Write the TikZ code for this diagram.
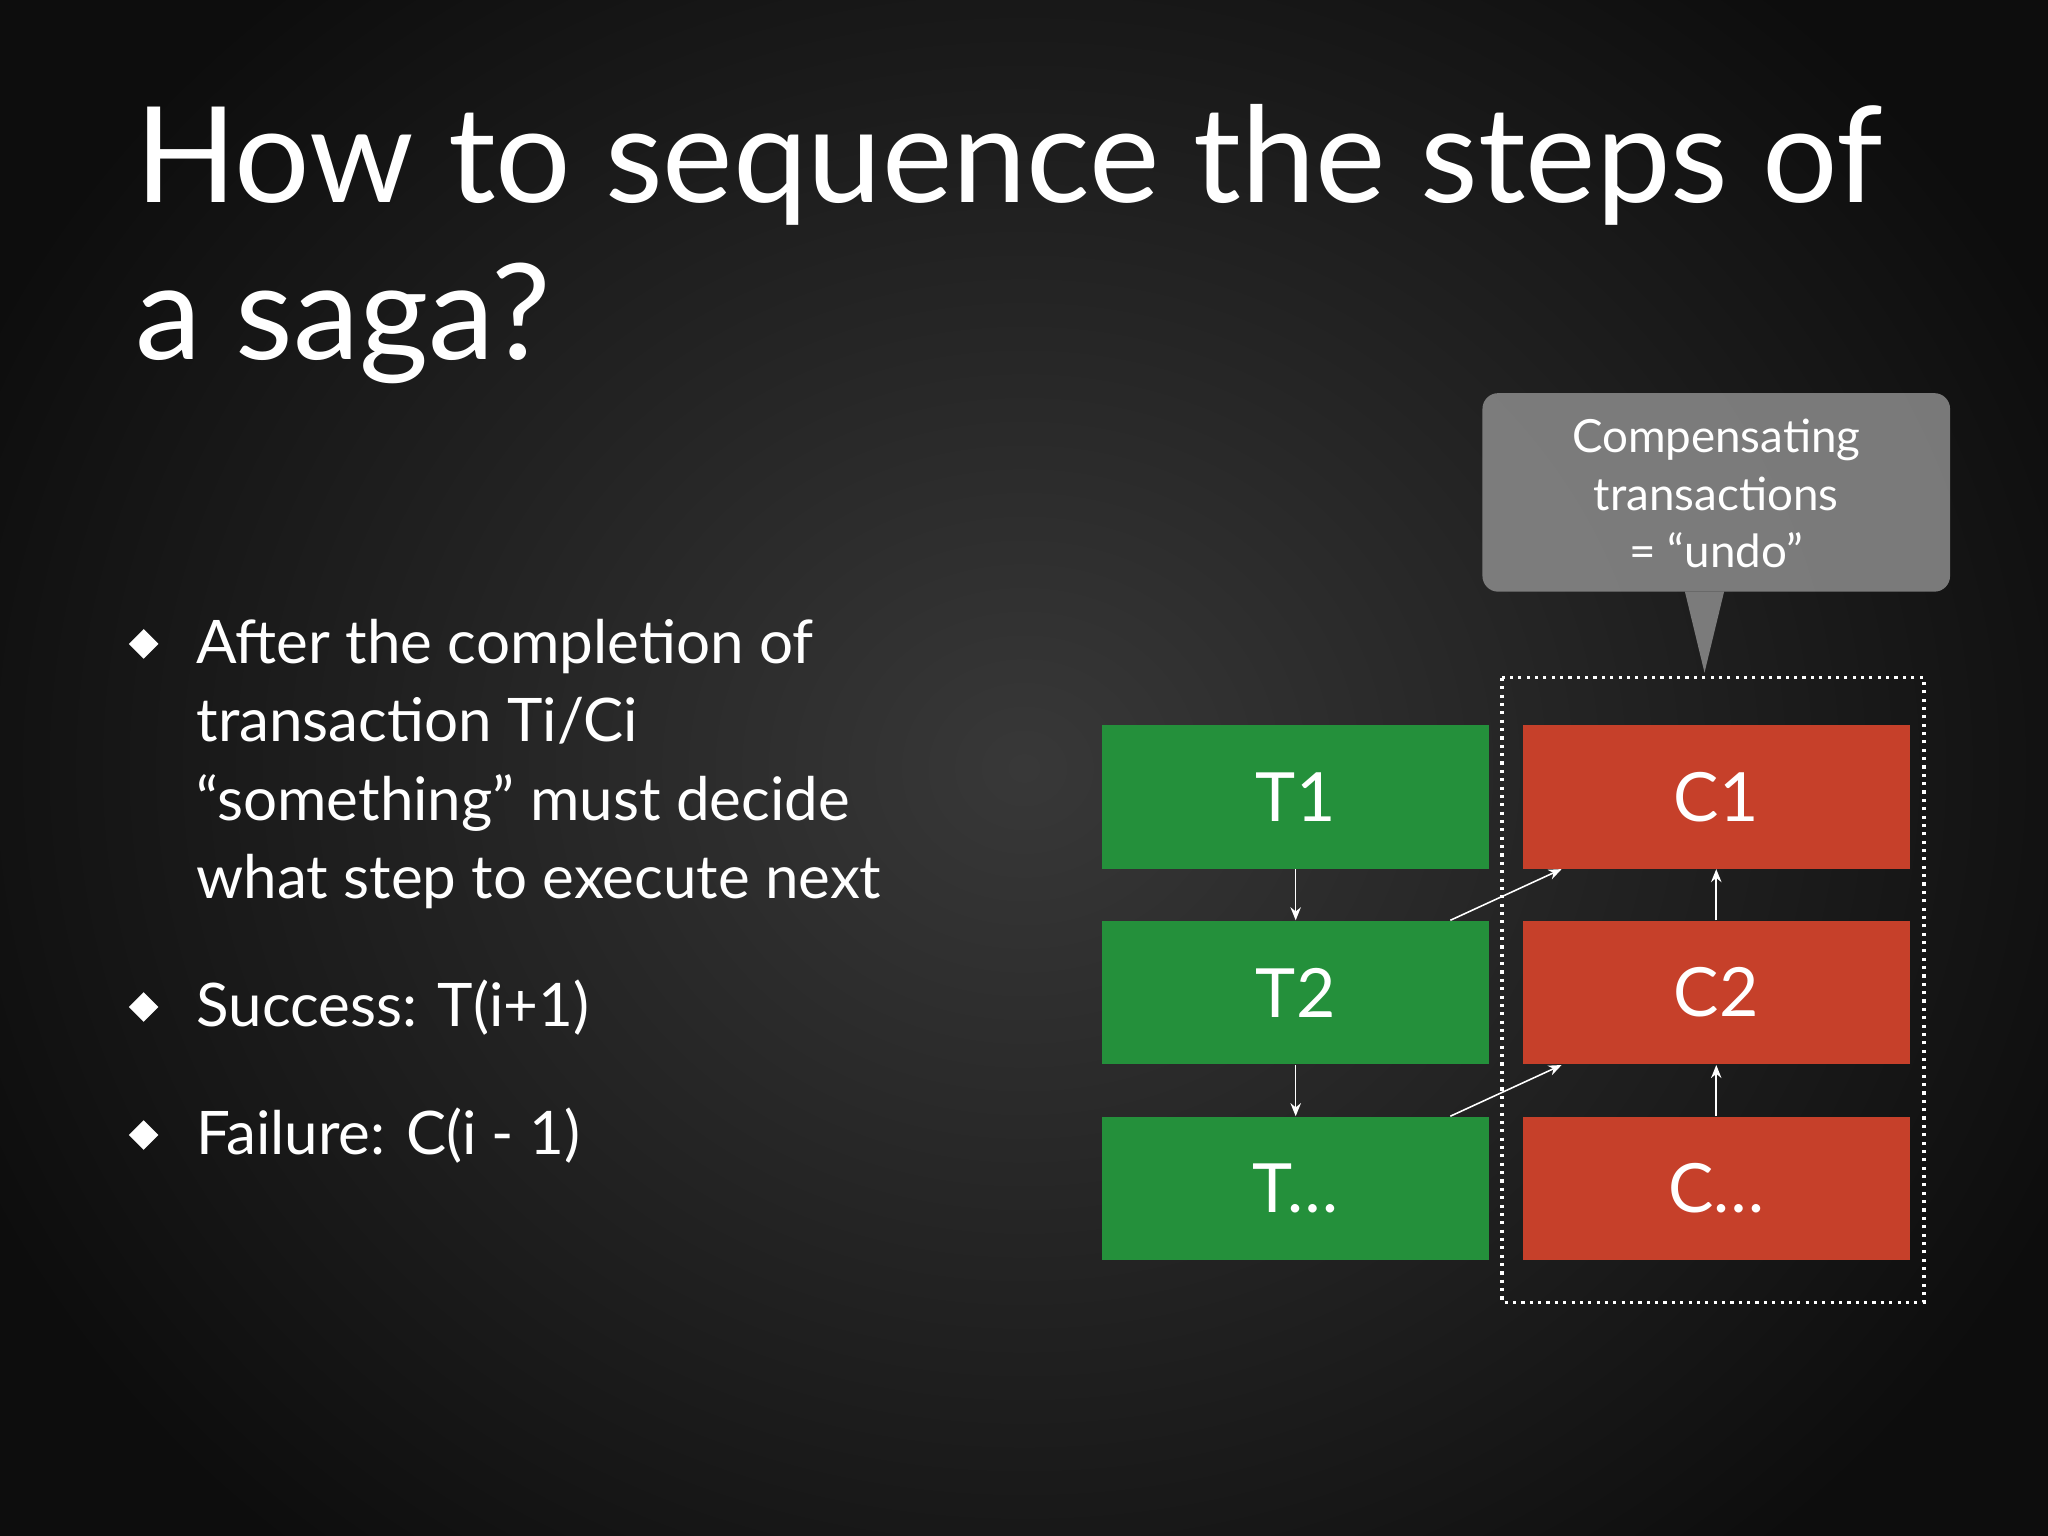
\documentclass[tikz,border=0pt]{standalone}
\usepackage{fontspec}
\setmainfont{Lato}
\usetikzlibrary{arrows.meta}
\definecolor{tgreen}{HTML}{24903B}
\definecolor{cred}{HTML}{C6402A}
\tikzset{
  tbox/.style={fill=tgreen,minimum width=148pt,minimum height=55pt,inner sep=0pt,text=white,font=\fontsize{26}{30}\selectfont},
  cbox/.style={tbox,fill=cred},
  flow/.style={white,line width=0.6pt,-{Stealth[length=5pt,width=4pt]}},
  btxt/.style={anchor=base west,text=white,font=\fontsize{23}{30}\selectfont,inner sep=0pt},
  bul/.style={fill=white,minimum size=8pt,inner sep=0pt,rotate=45}
}
\begin{document}
\begin{tikzpicture}[x=0.5pt,y=-0.5pt]
\useasboundingbox (0,0) rectangle (1568,1176);
\begin{scope}
\clip (0,0) rectangle (1568,1176);
\shade[inner color=black!78,outer color=black!95] (-100,-200) rectangle (1668,1376);
\end{scope}
\node[anchor=base west,text=white,font=\fontsize{51}{60}\selectfont,inner sep=0pt] (t1) at (103,155) {How to sequence the steps of};
\node[anchor=base west,text=white,font=\fontsize{51}{60}\selectfont,inner sep=0pt] (t2) at (103,275) {a saga?};
\node[btxt] (b1) at (150,508) {After the completion of};
\node[btxt] (b2) at (150,568) {transaction Ti/Ci};
\node[btxt] (b3) at (150,628) {“something” must decide};
\node[btxt] (b4) at (150,688) {what step to execute next};
\node[btxt] (b5) at (150,786) {Success: T(i+1)};
\node[btxt] (b6) at (150,884) {Failure: C(i - 1)};
\node[bul] (m1) at (110,493) {};
\node[bul] (m2) at (110,771) {};
\node[bul] (m3) at (110,869) {};
% callout
\fill[black!45,opacity=0.85,rounded corners=6pt] (1135,301) rectangle (1493,453);
\fill[black!45,opacity=0.85] (1290,453) -- (1305,515) -- (1320,453) -- cycle;
\node[text=white,align=center,font=\fontsize{17.5}{22}\selectfont] (co) at (1314,378) {Compensating\\transactions\\= “undo”};
\draw[white,dotted,line width=1.2pt] (1150,519) rectangle (1473,997);
\node[tbox] (T1) at (992,610) {T1};
\node[tbox] (T2) at (992,760) {T2};
\node[tbox] (T3) at (992,910) {T…};
\node[cbox] (C1) at (1314,610) {C1};
\node[cbox] (C2) at (1314,760) {C2};
\node[cbox] (C3) at (1314,910) {C…};
\draw[flow] (T1.south) -- (T2.north);
\draw[flow] (T2.south) -- (T3.north);
\draw[flow] (C2.north) -- (C1.south);
\draw[flow] (C3.north) -- (C2.south);
\draw[flow] ([xshift=-15pt]T2.north east) -- ([xshift=15pt]C1.south west);
\draw[flow] ([xshift=-15pt]T3.north east) -- ([xshift=15pt]C2.south west);
\end{tikzpicture}
\end{document}
